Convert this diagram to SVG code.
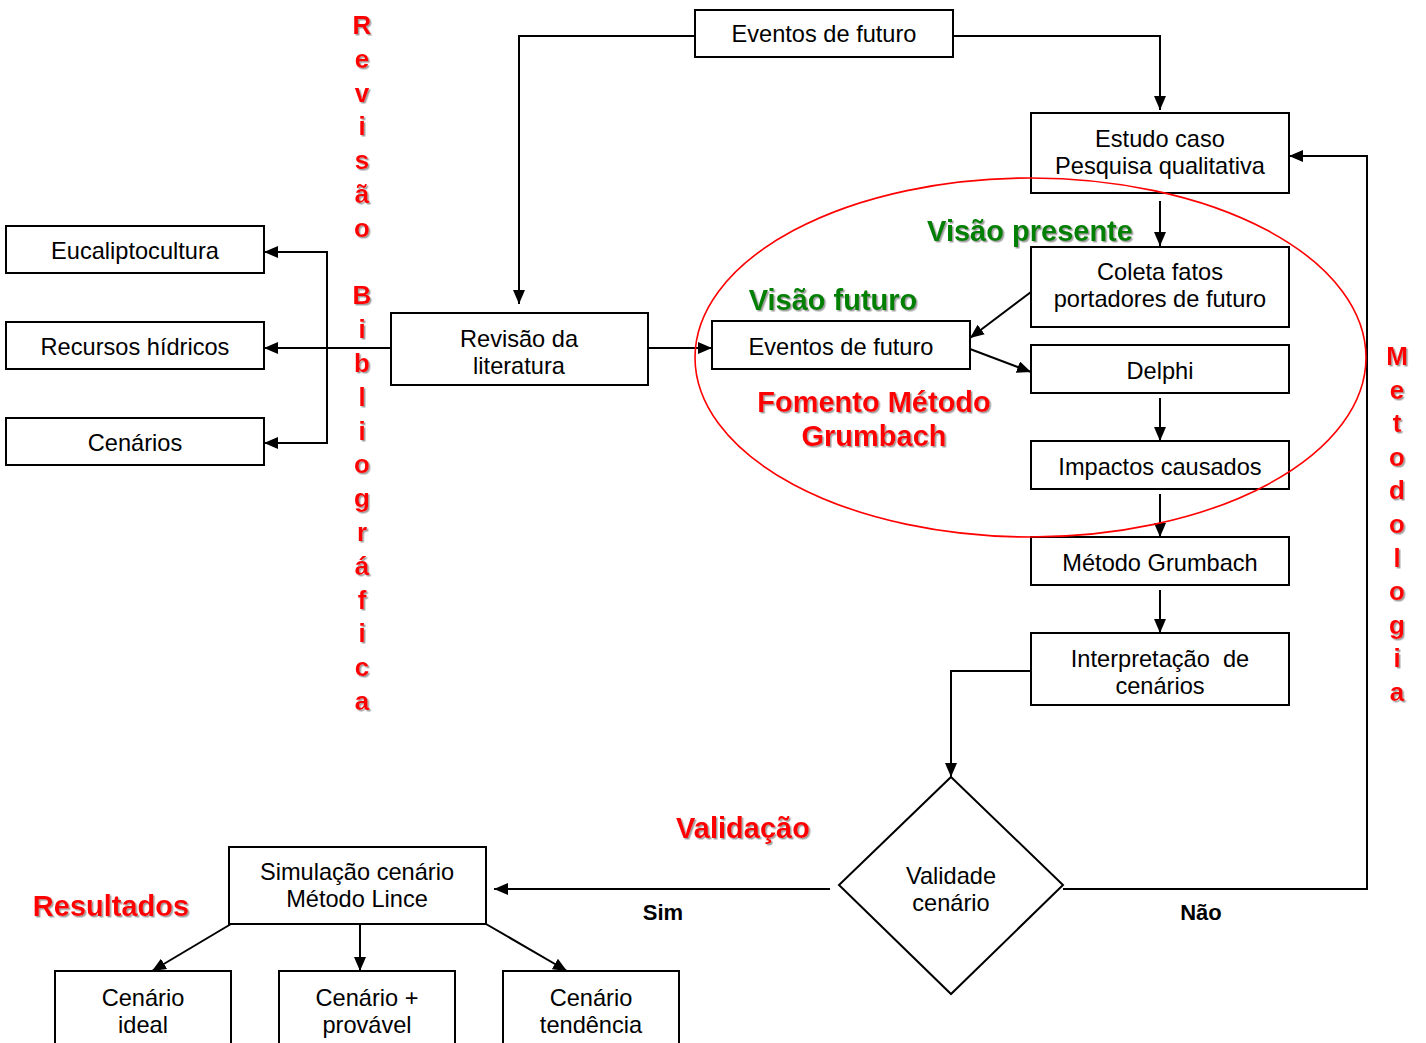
<svg xmlns="http://www.w3.org/2000/svg" width="1426" height="1043" viewBox="0 0 1426 1043">
  <style>
    .box { fill: #fff; stroke: #000; stroke-width: 2; }
    .lbl { font-family: "Liberation Sans", Arial, sans-serif; font-size: 23.6px; fill: #000; text-anchor: middle; white-space: pre; }
    .yn { font-family: "Liberation Sans", Arial, sans-serif; font-size: 22px; font-weight: bold; fill: #000; text-anchor: middle; }
    .red { font-family: "Liberation Sans", Arial, sans-serif; font-size: 29px; font-weight: bold; fill: #ff0000; text-anchor: middle; filter: url(#shadow); }
    .green { font-family: "Liberation Sans", Arial, sans-serif; font-size: 29px; font-weight: bold; fill: #008000; text-anchor: middle; filter: url(#shadow); }
    .vert { font-family: "Liberation Sans", Arial, sans-serif; font-size: 26px; font-weight: bold; fill: #ff0000; text-anchor: middle; filter: url(#shadow); }
    .conn { fill: none; stroke: #000; stroke-width: 2; }
    .arr { marker-end: url(#head); }
  </style>
  <defs>
    <marker id="head" viewBox="0 0 14 12" refX="14" refY="6" markerWidth="14" markerHeight="12" markerUnits="userSpaceOnUse" orient="auto">
      <path d="M0,0 L14,6 L0,12 z" fill="#000"/>
    </marker>
    <filter id="shadow" x="-10%" y="-10%" width="130%" height="140%">
      <feDropShadow dx="1.5" dy="1.5" stdDeviation="0.6" flood-color="#888" flood-opacity="0.8"/>
    </filter>
  </defs>
  <rect width="1426" height="1043" fill="#fff"/>

  <!-- connectors -->
  <g id="connectors">
    <polyline class="conn arr" points="695,36 519,36 519,304"/>
    <polyline class="conn arr" points="953,36 1160,36 1160,110"/>
    <line class="conn arr" x1="1160" y1="201" x2="1160" y2="246"/>
    <line class="conn arr" x1="1160" y1="398" x2="1160" y2="441"/>
    <line class="conn arr" x1="1160" y1="494" x2="1160" y2="537"/>
    <line class="conn arr" x1="1160" y1="590" x2="1160" y2="633"/>
    <polyline class="conn arr" points="1031,671 951,671 951,777"/>
    <polyline class="conn arr" points="1063,889 1367,889 1367,156 1289,156"/>
    <line class="conn arr" x1="830" y1="889" x2="494" y2="889"/>
    <line class="conn arr" x1="231" y1="924" x2="152" y2="971"/>
    <line class="conn arr" x1="360" y1="924" x2="360" y2="971"/>
    <line class="conn arr" x1="486" y1="924" x2="567" y2="971"/>
    <line class="conn arr" x1="648" y1="348" x2="712" y2="348"/>
    <line class="conn arr" x1="1031" y1="292" x2="970" y2="338"/>
    <line class="conn arr" x1="970" y1="349" x2="1031" y2="372"/>
    <line class="conn arr" x1="391" y1="348" x2="264" y2="348"/>
    <polyline class="conn arr" points="327,348 327,252 264,252"/>
    <polyline class="conn arr" points="327,348 327,443 264,443"/>
  </g>

  <!-- nodes -->
  <g id="n-eventos-top"><rect class="box" x="695" y="10" width="258" height="47"/><text class="lbl" x="824" y="42">Eventos de futuro</text></g>
  <g id="n-estudo"><rect class="box" x="1031" y="113" width="258" height="80"/><text class="lbl" x="1160" y="147">Estudo caso</text><text class="lbl" x="1160" y="174">Pesquisa qualitativa</text></g>
  <g id="n-coleta"><rect class="box" x="1031" y="247" width="258" height="80"/><text class="lbl" x="1160" y="280">Coleta fatos</text><text class="lbl" x="1160" y="307">portadores de futuro</text></g>
  <g id="n-delphi"><rect class="box" x="1031" y="345" width="258" height="48"/><text class="lbl" x="1160" y="379">Delphi</text></g>
  <g id="n-impactos"><rect class="box" x="1031" y="441" width="258" height="48"/><text class="lbl" x="1160" y="475">Impactos causados</text></g>
  <g id="n-grumbach"><rect class="box" x="1031" y="537" width="258" height="48"/><text class="lbl" x="1160" y="571">Método Grumbach</text></g>
  <g id="n-interpretacao"><rect class="box" x="1031" y="633" width="258" height="72"/><text class="lbl" x="1160" y="667">Interpretação  de</text><text class="lbl" x="1160" y="694">cenários</text></g>
  <g id="n-revisao"><rect class="box" x="391" y="313" width="257" height="72"/><text class="lbl" x="519" y="347">Revisão da</text><text class="lbl" x="519" y="374">literatura</text></g>
  <g id="n-eventos"><rect class="box" x="712" y="321" width="258" height="48"/><text class="lbl" x="841" y="355">Eventos de futuro</text></g>
  <g id="n-eucalipto"><rect class="box" x="6" y="226" width="258" height="47"/><text class="lbl" x="135" y="259">Eucaliptocultura</text></g>
  <g id="n-recursos"><rect class="box" x="6" y="322" width="258" height="47"/><text class="lbl" x="135" y="355">Recursos hídricos</text></g>
  <g id="n-cenarios"><rect class="box" x="6" y="418" width="258" height="47"/><text class="lbl" x="135" y="451">Cenários</text></g>
  <g id="n-validade"><polygon class="box" points="951,777 1063,885 951,994 839,885"/><text class="lbl" x="951" y="884">Validade</text><text class="lbl" x="951" y="911">cenário</text></g>
  <g id="n-simulacao"><rect class="box" x="229" y="847" width="257" height="77"/><text class="lbl" x="357" y="880">Simulação cenário</text><text class="lbl" x="357" y="907">Método Lince</text></g>
  <g id="n-ideal"><rect class="box" x="55" y="971" width="176" height="80"/><text class="lbl" x="143" y="1006">Cenário</text><text class="lbl" x="143" y="1033">ideal</text></g>
  <g id="n-provavel"><rect class="box" x="279" y="971" width="176" height="80"/><text class="lbl" x="367" y="1006">Cenário +</text><text class="lbl" x="367" y="1033">provável</text></g>
  <g id="n-tendencia"><rect class="box" x="503" y="971" width="176" height="80"/><text class="lbl" x="591" y="1006">Cenário</text><text class="lbl" x="591" y="1033">tendência</text></g>

  <!-- grouping ellipse -->
  <ellipse cx="1030.5" cy="357.5" rx="335.5" ry="179.5" fill="none" stroke="#ff0000" stroke-width="1.6"/>

  <!-- branch labels -->
  <text class="yn" x="663" y="920">Sim</text>
  <text class="yn" x="1201" y="920">Não</text>

  <!-- section titles -->
  <text class="green" x="1030" y="241">Visão presente</text>
  <text class="green" x="833" y="310">Visão futuro</text>
  <text class="red" x="874" y="412">Fomento Método</text>
  <text class="red" x="874" y="446">Grumbach</text>
  <text class="red" x="743" y="838">Validação</text>
  <text class="red" x="111" y="916">Resultados</text>

  <text class="vert"><tspan x="362" y="34">R</tspan><tspan x="362" y="67.8">e</tspan><tspan x="362" y="101.6">v</tspan><tspan x="362" y="135.4">i</tspan><tspan x="362" y="169.2">s</tspan><tspan x="362" y="203">ã</tspan><tspan x="362" y="236.8">o</tspan><tspan x="362" y="270.6"> </tspan><tspan x="362" y="304.4">B</tspan><tspan x="362" y="338.2">i</tspan><tspan x="362" y="372">b</tspan><tspan x="362" y="405.8">l</tspan><tspan x="362" y="439.6">i</tspan><tspan x="362" y="473.4">o</tspan><tspan x="362" y="507.2">g</tspan><tspan x="362" y="541">r</tspan><tspan x="362" y="574.8">á</tspan><tspan x="362" y="608.6">f</tspan><tspan x="362" y="642.4">i</tspan><tspan x="362" y="676.2">c</tspan><tspan x="362" y="710">a</tspan></text>

  <text class="vert"><tspan x="1397" y="365">M</tspan><tspan x="1397" y="398.6">e</tspan><tspan x="1397" y="432.2">t</tspan><tspan x="1397" y="465.8">o</tspan><tspan x="1397" y="499.4">d</tspan><tspan x="1397" y="533">o</tspan><tspan x="1397" y="566.6">l</tspan><tspan x="1397" y="600.2">o</tspan><tspan x="1397" y="633.8">g</tspan><tspan x="1397" y="667.4">i</tspan><tspan x="1397" y="701">a</tspan></text>
</svg>
